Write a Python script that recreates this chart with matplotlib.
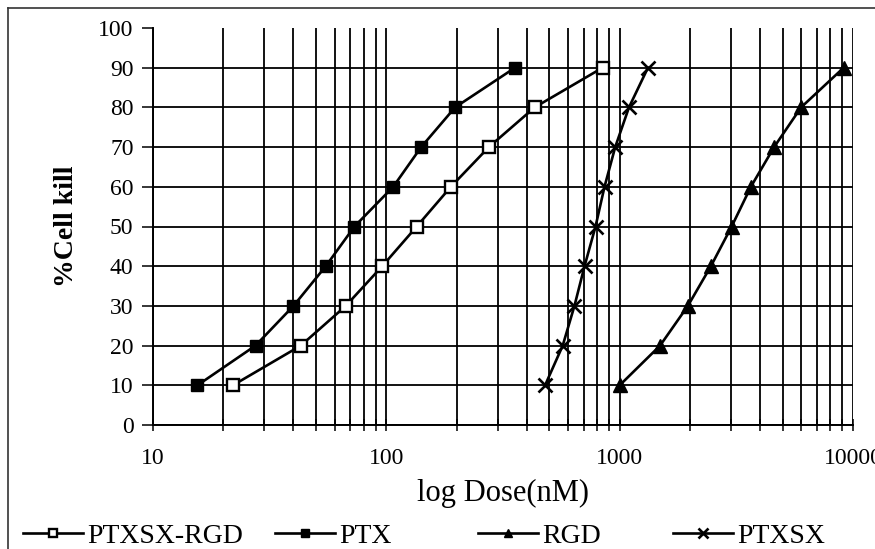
import matplotlib
matplotlib.use("Agg")
import matplotlib.pyplot as plt
from matplotlib.lines import Line2D
from matplotlib.ticker import LogLocator, NullFormatter
import numpy as np

plt.rcParams["font.family"] = ["Liberation Serif", "DejaVu Serif"]

# ── Data ──────────────────────────────────────────────────────────────────────
KILL = [10, 20, 30, 40, 50, 60, 70, 80, 90]

DOSE_PTXSX_RGD = [22, 43, 67, 96, 135, 189, 275, 432, 845]
DOSE_PTX       = [15.5, 27.5, 40, 55, 73, 107, 141, 197, 356]
DOSE_RGD       = [1000, 1490, 1960, 2460, 3020, 3650, 4590, 5990, 9120]
DOSE_PTXSX     = [479, 570, 640, 707, 788, 861, 957, 1096, 1322]

SERIES = ["PTXSX-RGD", "PTX", "RGD", "PTXSX"]
XTICKS = [10, 100, 1000, 10000]
YTICKS = [0, 10, 20, 30, 40, 50, 60, 70, 80, 90, 100]

# ── Figure ────────────────────────────────────────────────────────────────────
fig = plt.figure(figsize=(8.75, 5.49), dpi=100, facecolor="white")
ax = fig.add_axes([153 / 875, 1 - 425 / 549, 700 / 875, 397 / 549])

lw = 1.9
h1, = ax.plot(DOSE_PTXSX_RGD, KILL, color="black", lw=lw, marker="s", ms=8,
              mfc="white", mec="black", mew=1.7, label=SERIES[0], zorder=4)
h2, = ax.plot(DOSE_PTX, KILL, color="black", lw=lw, marker="s", ms=9,
              mfc="black", mec="black", label=SERIES[1], zorder=4)
h3, = ax.plot(DOSE_RGD, KILL, color="black", lw=lw, marker="^", ms=9.5,
              mfc="black", mec="black", label=SERIES[2], zorder=4)
h4, = ax.plot(DOSE_PTXSX, KILL, color="black", lw=lw, marker="x", ms=10,
              mew=1.9, label=SERIES[3], zorder=4)

# ── Axes ──────────────────────────────────────────────────────────────────────
ax.set_xscale("log")
ax.set_xlim(10, 10000)
ax.set_ylim(0, 100)
ax.set_xticks(XTICKS)
ax.set_xticklabels([str(v) for v in XTICKS])
ax.xaxis.set_minor_locator(LogLocator(base=10, subs=np.arange(2, 10)))
ax.xaxis.set_minor_formatter(NullFormatter())
ax.set_yticks(YTICKS)

for s in ["top", "right"]:
    ax.spines[s].set_visible(False)
for s in ["left", "bottom"]:
    ax.spines[s].set_linewidth(1.4)
    ax.spines[s].set_color("black")

ax.tick_params(axis="x", which="both", direction="inout", length=9, width=1.1,
               labelsize=17, pad=12)
ax.tick_params(axis="y", direction="out", length=8, width=1.1,
               labelsize=17, pad=6)

ax.grid(True, which="both", axis="x", color="black", lw=1.3)
ax.grid(True, which="major", axis="y", color="black", lw=1.3)
ax.yaxis.get_gridlines()[-1].set_visible(False)
ax.set_axisbelow(True)

ax.set_xlabel("log Dose(nM)", fontsize=22, labelpad=7)
ax.set_ylabel("%Cell kill", fontsize=20, fontweight="bold", labelpad=14)

# ── Legend: four separate entries along the bottom ────────────────────────────
LEG_X = [23, 275, 478, 673]
for h, x0 in zip([h1, h2, h3, h4], LEG_X):
    fig.legend(handles=[h], loc="center left",
               bbox_to_anchor=(x0 / 875, 1 - 536 / 549),
               frameon=False, fontsize=20, handlelength=2.15,
               handletextpad=0.15, borderpad=0, borderaxespad=0,
               markerscale=0.65)

# ── Figure frame (left + top) ─────────────────────────────────────────────────
fig.add_artist(Line2D([8 / 875, 8 / 875], [0, 1 - 8 / 549],
                      color="#333", lw=1.2, transform=fig.transFigure))
fig.add_artist(Line2D([8 / 875, 1], [1 - 8 / 549, 1 - 8 / 549],
                      color="#333", lw=1.2, transform=fig.transFigure))

fig.savefig("out.png", dpi=100, facecolor="white")
plt.close(fig)
